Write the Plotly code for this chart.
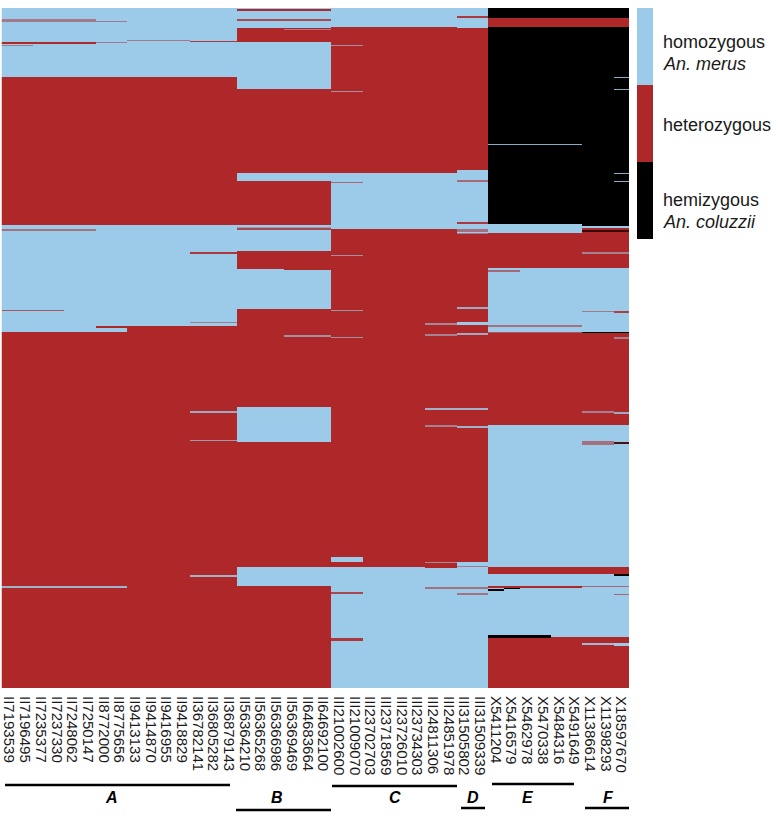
import plotly.graph_objects as go

W, H = 772, 817

# genotype calls, blends are the stripes too thin to read as one call
MERUS, HET, COLUZZII = 0, 1, 2
COLOR_BLUE = '#9ccbe9'
COLOR_RED = '#ae2729'
COLOR_BLACK = '#000000'

N_ROWS = 680

COLUMN_LABELS = [
    'II7193539', 'II7196495', 'II7235377', 'II7237330', 'II7248062', 'II7250147',
    'II8772000', 'II8775656', 'II9413133', 'II9414870', 'II9416955', 'II9418829',
    'II36782141', 'II36805282', 'II36879143',
    'II56364210', 'II56365268', 'II56366986', 'II56369469', 'II64683664', 'II64692100',
    'III21002600', 'III21009070', 'III23702703', 'III23718569', 'III23726010',
    'III23734303', 'III24811306', 'III24851978',
    'III31505802', 'III31509339',
    'X5411204', 'X5416579', 'X5462978', 'X5470338', 'X5484316', 'X5491649',
    'X11386614', 'X11398293', 'X18597670',
]

# (first column, last column) of each group
GROUP_A = (0, 14)
GROUP_B = (15, 20)
GROUP_C = (21, 28)
GROUP_D = (29, 30)
GROUP_E = (31, 36)
GROUP_F = (37, 39)

# each run is (end row, call), runs follow on from the end of the last one
RUNS_A = [(69, MERUS), (217, HET), (318, MERUS), (680, HET)]
RUNS_B = [(1, MERUS), (3, HET), (20, MERUS), (34, HET), (81, MERUS), (165, HET), (173, MERUS),
          (217, HET), (243, MERUS), (261, HET), (301, MERUS), (399, HET), (434, MERUS),
          (559, HET), (578, MERUS), (680, HET)]
RUNS_C = [(19, MERUS), (165, HET), (221, MERUS), (559, HET), (680, MERUS)]
RUNS_D = [(20, MERUS), (162, HET), (226, MERUS), (554, HET), (680, MERUS)]
RUNS_E = [(10, COLUZZII), (19, HET), (216, COLUZZII), (225, MERUS), (260, HET), (325, MERUS),
          (417, HET), (559, MERUS), (566, HET), (627, MERUS), (680, HET)]
RUNS_F = [(10, COLUZZII), (19, HET), (218, COLUZZII), (220, MERUS), (260, HET), (324, MERUS),
          (325, COLUZZII), (417, HET), (559, MERUS), (566, HET), (629, MERUS), (680, HET)]

# thin stripes over the runs: first col, last col, first row, end row, call
STRIPES_A = [
    (0, 5, 11, 14, 0.5), (6, 7, 13, 14, 0.5), (0, 5, 34, 36, HET), (6, 7, 34, 35, 0.5),
    (8, 11, 32, 33, 0.5), (12, 14, 33, 34, 0.9), (0, 1, 37, 38, 0.5), (0, 5, 221, 223, 0.55),
    (12, 14, 244, 246, 0.9), (0, 3, 302, 303, 0.7), (12, 14, 314, 315, 0.5),
    (0, 5, 318, 324, MERUS), (6, 7, 320, 324, MERUS), (12, 14, 403, 405, 0.2),
    (12, 14, 432, 433, 0.3), (12, 14, 567, 569, 0.15), (0, 7, 578, 580, 0.15),
]
STRIPES_B = [
    (15, 20, 11, 13, 0.8), (18, 20, 21, 22, 0.5), (15, 20, 219, 220, 0.3), (15, 20, 220, 222, 0.8),
    (18, 20, 261, 262, HET), (18, 20, 327, 329, 0.35),
]
STRIPES_C = [
    (21, 22, 37, 38, 0.35), (21, 22, 83, 84, 0.35), (21, 22, 174, 175, 0.6), (21, 22, 247, 248, 0.35),
    (21, 22, 302, 303, 0.35), (21, 22, 329, 330, 0.35), (27, 28, 315, 317, 0.4), (27, 28, 326, 328, 0.45),
    (27, 28, 400, 402, 0.15), (27, 28, 417, 419, 0.45), (21, 22, 549, 554, MERUS), (27, 28, 554, 555, 0.4),
    (27, 28, 559, 560, HET), (21, 22, 584, 586, 0.8), (27, 28, 579, 581, 0.55), (21, 22, 630, 633, 0.9),
]
STRIPES_D = [
    (29, 30, 8, 10, 0.9), (29, 30, 172, 174, 0.6), (29, 30, 214, 216, 0.9), (29, 30, 221, 224, 0.55),
    (29, 30, 225, 226, 0.5), (29, 30, 299, 301, 0.2), (29, 30, 314, 317, MERUS), (29, 30, 325, 327, 0.2),
    (29, 30, 400, 402, 0.15), (29, 30, 418, 420, 0.15), (29, 30, 558, 559, 0.5), (29, 30, 579, 581, 0.55),
    (29, 30, 585, 587, 0.55),
]
STRIPES_E = [
    (31, 36, 136, 137, 2.85), (31, 32, 262, 264, 0.6), (31, 36, 317, 319, 0.55), (31, 36, 324, 325, 0.7),
    (31, 36, 578, 580, HET), (31, 31, 581, 583, COLUZZII), (32, 32, 580, 581, COLUZZII),
    (31, 34, 627, 630, COLUZZII), (35, 36, 627, 629, MERUS),
]
STRIPES_F = [
    (39, 39, 69, 70, 2.85), (39, 39, 81, 82, 2.85), (39, 39, 165, 166, 2.85), (39, 39, 173, 174, 2.85),
    (37, 39, 222, 224, 1.7), (37, 39, 244, 246, 0.45), (37, 38, 303, 304, 0.5), (39, 39, 303, 305, 0.85),
    (39, 39, 329, 331, 0.45), (37, 38, 403, 405, 0.45), (39, 39, 404, 406, 0.2), (37, 38, 433, 437, 0.55),
    (39, 39, 434, 436, 1.6), (39, 39, 566, 568, COLUZZII), (37, 39, 578, 579, 0.6), (39, 39, 586, 587, 0.6),
    (37, 38, 635, 637, 0.1), (39, 39, 635, 638, MERUS),
]

GROUP_NAMES = ['A', 'B', 'C', 'D', 'E', 'F']
LEGEND_CALLS = [[MERUS], [HET], [COLUZZII]]

# blue > red > black, then back up to blue for stripes that cross the black block
COLORSCALE = [[0, COLOR_BLUE], [1 / 3, COLOR_RED], [2 / 3, COLOR_BLACK], [1, COLOR_BLUE]]


def px(x):
    return x / W


def py(y):
    return 1 - y / H


# build the matrix from runs and stripes
z = [[HET] * len(COLUMN_LABELS) for _ in range(N_ROWS)]
for (first, last), runs in [(GROUP_A, RUNS_A), (GROUP_B, RUNS_B), (GROUP_C, RUNS_C),
                            (GROUP_D, RUNS_D), (GROUP_E, RUNS_E), (GROUP_F, RUNS_F)]:
    start = 0
    for end, call in runs:
        for r in range(start, end):
            for c in range(first, last + 1):
                z[r][c] = call
        start = end

for c0, c1, r0, r1, call in STRIPES_A + STRIPES_B + STRIPES_C + STRIPES_D + STRIPES_E + STRIPES_F:
    for r in range(r0, r1):
        for c in range(c0, c1 + 1):
            z[r][c] = call

fig = go.Figure()

fig.add_trace(go.Heatmap(
    z=z,
    x=list(range(len(COLUMN_LABELS))),
    y=[r + 0.5 for r in range(N_ROWS)],
    colorscale=COLORSCALE, zmin=0, zmax=3,
    showscale=False, hoverinfo='skip',
))

# key on the right
fig.add_trace(go.Heatmap(
    z=LEGEND_CALLS, y=[0, 1, 2], x=[0],
    colorscale=COLORSCALE, zmin=0, zmax=3,
    showscale=False, hoverinfo='skip',
    xaxis='x2', yaxis='y2',
))

fig.update_layout(
    width=W, height=H,
    margin=dict(l=0, r=0, t=0, b=0),
    autosize=False,
    showlegend=False,
    plot_bgcolor='white',
    paper_bgcolor='white',
    font=dict(family='Liberation Sans', color='#1a1a1a'),
    xaxis=dict(
        domain=[px(1.5), px(629)], range=[-0.5, 39.5],
        tickmode='array', tickvals=list(range(len(COLUMN_LABELS))), ticktext=COLUMN_LABELS,
        tickangle=90, tickfont=dict(size=15), ticks='outside', ticklen=4, tickcolor='rgba(0,0,0,0)',
        showgrid=False, zeroline=False, showline=False, automargin=False,
    ),
    yaxis=dict(
        domain=[py(688), py(8)], range=[N_ROWS, 0],
        showticklabels=False, ticks='', showgrid=False, zeroline=False, automargin=False,
    ),
    xaxis2=dict(
        domain=[px(637), px(653)], range=[-0.5, 0.5], anchor='y2',
        showticklabels=False, ticks='', showgrid=False, zeroline=False,
    ),
    yaxis2=dict(
        domain=[py(239), py(8)], range=[2.5, -0.5], anchor='x2',
        showticklabels=False, ticks='', showgrid=False, zeroline=False,
    ),
)

# group bars and letters under the column labels
BAR_SPANS = [(5, 230, 785), (236, 331, 810), (332, 457, 786), (461, 485, 808), (492, 574, 784), (585, 629, 808)]
LETTER_X = [111, 277, 395, 473, 528, 608]
for (x0, x1, y), name, lx in zip(BAR_SPANS, GROUP_NAMES, LETTER_X):
    fig.add_shape(type='line', xref='paper', yref='paper',
                  x0=px(x0), x1=px(x1), y0=py(y), y1=py(y),
                  line=dict(color='black', width=2.5))
    fig.add_annotation(xref='paper', yref='paper', x=px(lx), y=py(797), text=f'<b><i>{name}</i></b>',
                       showarrow=False, font=dict(size=16, color='black'),
                       xanchor='center', yanchor='middle')

KEY_TEXT = [('homozygous', 42), ('<i>An. merus</i>', 64), ('heterozygous', 125),
            ('hemizygous', 200), ('<i>An. coluzzii</i>', 222)]
for text, y in KEY_TEXT:
    fig.add_annotation(xref='paper', yref='paper', x=px(660.5), y=py(y), text=text,
                       showarrow=False, font=dict(size=18),
                       xanchor='left', yanchor='middle')

fig.write_html('out.html', config=dict(displayModeBar=False),
               post_script="document.body.style.margin='0'")
